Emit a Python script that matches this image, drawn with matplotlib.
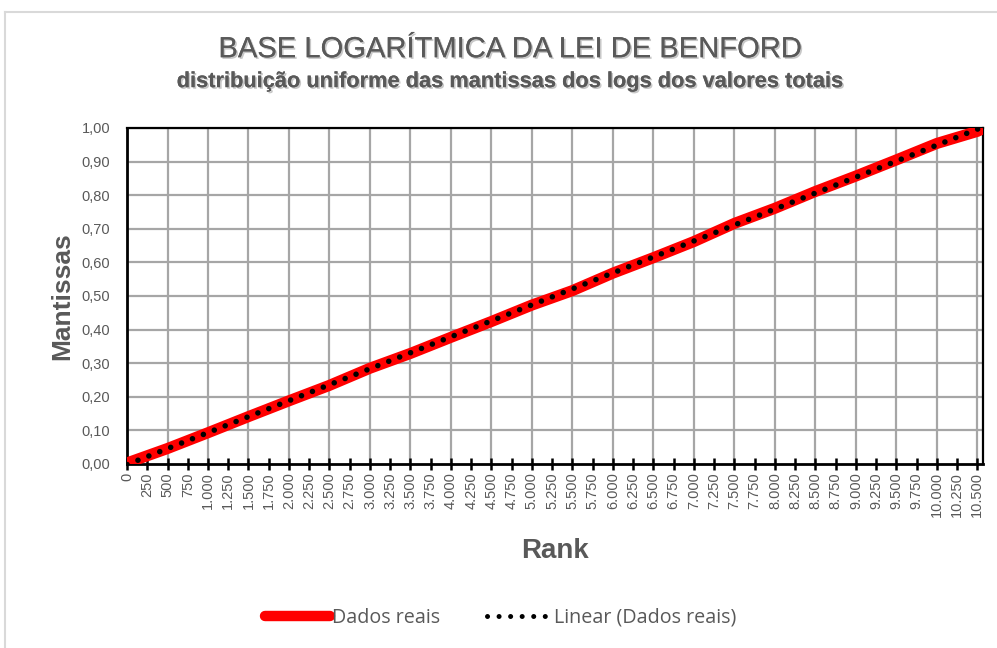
import numpy as np
import matplotlib
matplotlib.use('Agg')
from matplotlib import pyplot as plt
from matplotlib import patheffects as pe
from matplotlib.lines import Line2D

# dados (rank x mantissa)
rank = [0, 500, 1000, 1500, 2000, 2500, 3000, 3500, 4000, 4500, 5000,
        5500, 6000, 6500, 7000, 7500, 8000, 8500, 9000, 9500, 10000,
        10500, 10570]
mantissa = [0.003, 0.046, 0.093, 0.141, 0.188, 0.234, 0.285, 0.329, 0.377,
            0.424, 0.473, 0.516, 0.568, 0.614, 0.662, 0.716, 0.761, 0.811,
            0.857, 0.905, 0.954, 0.990, 0.998]
x_ticks = list(range(0, 10501, 250))
y_ticks = [i / 10 for i in range(11)]

gray = '#595959'
plt.rcParams['font.family'] = ['Liberation Sans', 'DejaVu Sans']

fig = plt.figure(figsize=(9.97, 6.48), dpi=100)
ax = fig.add_axes([0.1274, 0.284, 0.8586, 0.5185])

ax.plot(rank, mantissa, color='red', linewidth=8, solid_capstyle='butt',
        zorder=3)

# linha de tendencia linear
coef = np.polyfit(rank, mantissa, 1)
xt = np.array([rank[0], rank[-1]])
ax.plot(xt, np.polyval(coef, xt), color='black', linewidth=4,
        linestyle=(0, (0.01, 2.1)), dash_capstyle='round', zorder=4)

ax.set_xlim(0, 10570)
ax.set_ylim(0, 1.0)
ax.set_xticks(x_ticks)
ax.set_xticklabels([f'{v:,}'.replace(',', '.') for v in x_ticks],
                   rotation=90, fontsize=10.5, color=gray)
ax.set_yticks(y_ticks)
ax.set_yticklabels([f'{v:.2f}'.replace('.', ',') for v in y_ticks],
                   fontsize=10.5, color=gray)
ax.tick_params(axis='x', direction='inout', length=8, width=1.8,
               color='black', pad=2)
ax.tick_params(axis='y', length=0, pad=12)

for v in range(0, 10501, 500):
    ax.axvline(v, color='#a6a6a6', linewidth=1.6, zorder=1)
for v in y_ticks[1:]:
    ax.axhline(v, color='#a6a6a6', linewidth=1.6, zorder=1)
for s in ax.spines.values():
    s.set_color('black')
    s.set_linewidth(1.6)
ax.spines['left'].set_linewidth(2)
ax.spines['bottom'].set_linewidth(2)

ax.set_xlabel('Rank', fontsize=20, fontweight='bold', color=gray, labelpad=15)
ax.set_ylabel('Mantissas', fontsize=19, fontweight='bold', color=gray,
              labelpad=5)

shadow = [pe.withSimplePatchShadow(offset=(1.2, -1.2), shadow_rgbFace='#bbbbbb',
                                   alpha=0.8), pe.Normal()]
fig.text(0.511, 0.924, 'BASE LOGARÍTMICA DA LEI DE BENFORD', ha='center',
         va='center', fontsize=21, color=gray, path_effects=shadow)
fig.text(0.511, 0.874,
         'distribuição uniforme das mantissas dos logs dos valores totais',
         ha='center', va='center', fontsize=15.7, fontweight='bold',
         color=gray, path_effects=shadow)

handles = [Line2D([], [], color='red', linewidth=7.5, solid_capstyle='round'),
           Line2D([], [], color='black', linewidth=3.6,
                  linestyle=(0, (0.01, 2.3)), dash_capstyle='round')]
leg = fig.legend(handles, ['Dados reais', 'Linear (Dados reais)'],
                 loc='center', bbox_to_anchor=(0.502, 0.047), ncol=2,
                 frameon=False, handlelength=3.3, handletextpad=0.1,
                 columnspacing=2.4,
                 prop={'family': 'Open Sans', 'size': 14.2})
for t in leg.get_texts():
    t.set_color(gray)

# borda da area do grafico
fig.add_artist(Line2D([0.005, 0.005], [0, 0.9815], color='#d9d9d9',
                      linewidth=1.5))
fig.add_artist(Line2D([0.005, 1.0], [0.9815, 0.9815], color='#d9d9d9',
                      linewidth=1.5))

fig.savefig('out.png', dpi=100)
